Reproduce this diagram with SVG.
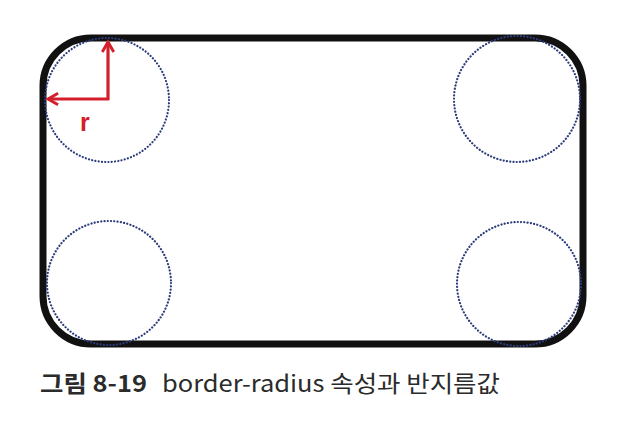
<svg xmlns="http://www.w3.org/2000/svg" width="636" height="424" viewBox="0 0 636 424">
<style>
.circ{fill:none;stroke:#2c3c7c;stroke-width:2.2;stroke-dasharray:0.1 3.2;stroke-linecap:round}
.arr{fill:none;stroke:#d21f2b;stroke-width:3.2}
.cap{font-family:"Noto Sans CJK KR","Liberation Sans",sans-serif;fill:#2b2b2b;font-size:23px}
</style>
<defs>
<marker id="ah" viewBox="0 0 10 10" refX="8" refY="5" markerWidth="4.5" markerHeight="4.5" orient="auto" markerUnits="strokeWidth">
<path d="M1,1 L8,5 L1,9" fill="none" stroke="#d21f2b" stroke-width="2"/>
</marker>
</defs>
<rect width="636" height="424" fill="#fff"/>
<g id="box"><rect x="43" y="38" width="540" height="306" rx="48" ry="48" fill="none" stroke="#111" stroke-width="7"/></g>
<g id="circles">
<circle class="circ" cx="107" cy="100" r="62"/>
<circle class="circ" cx="517" cy="99" r="63"/>
<circle class="circ" cx="109" cy="283" r="62"/>
<circle class="circ" cx="519" cy="284" r="62"/>
</g>
<g id="connectors">
<path class="arr" d="M108,100 L108,42" marker-end="url(#ah)"/>
<path class="arr" d="M109,99 L48,99" marker-end="url(#ah)"/>
</g>
<text x="80" y="131" font-family="Liberation Sans,sans-serif" font-size="25" font-weight="bold" fill="#d21f2b">r</text>
<g id="caption">
<text class="cap" x="40" y="392" font-weight="bold" textLength="107" lengthAdjust="spacingAndGlyphs">그림 8-19</text>
<text class="cap" x="162" y="392" textLength="338" lengthAdjust="spacingAndGlyphs">border-radius 속성과 반지름값</text>
</g>
</svg>
